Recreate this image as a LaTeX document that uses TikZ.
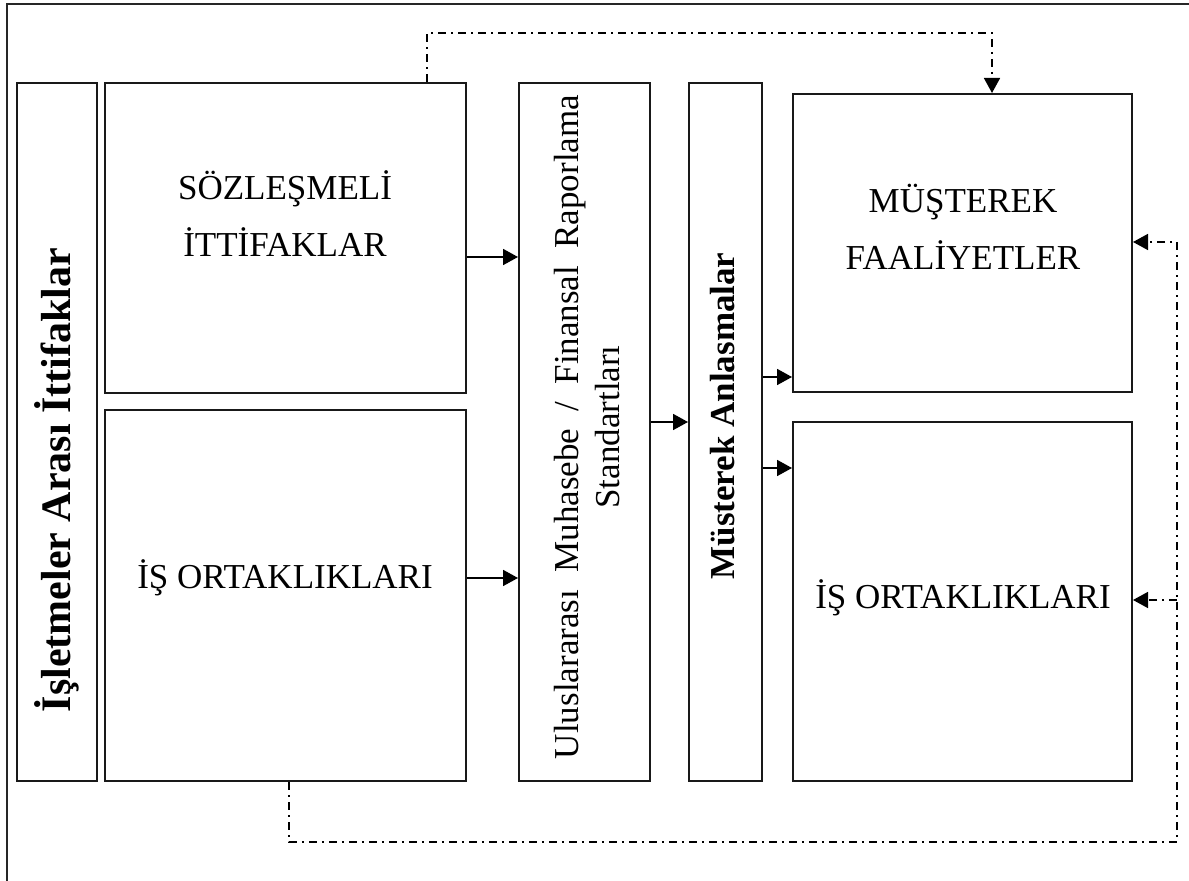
\documentclass[tikz,border=0pt]{standalone}
\usepackage{fontspec}
\setmainfont{Liberation Serif}
\usetikzlibrary{arrows.meta}
\begin{document}
\begin{tikzpicture}[x=0.5pt,y=-0.5pt,
  box/.style={draw=black!90,line width=1pt,inner sep=0pt,fill=none},
  txt/.style={font=\fontsize{17.5}{28.5}\selectfont,align=center,inner sep=0pt},
  vtxt/.style={font=\fontsize{17.5}{20.5}\selectfont,align=center,inner sep=0pt,rotate=90},
  arr/.style={line width=0.9pt,-{Triangle[length=7.5pt,width=8pt]}},
  dd/.style={line width=0.8pt,dash pattern=on 4pt off 2.5pt on 1pt off 2.5pt},
  ddarr/.style={dd,-{Triangle[length=7.5pt,width=8pt]}}]
\useasboundingbox (0,0) rectangle (1189,881);
\fill[white] (0,0) rectangle (1189,881);
% outer frame (right and bottom sides fall outside the page)
\draw[line width=1pt,black!85] (7,4) rectangle (1200,900);

% boxes
\node[box,minimum width=40pt,minimum height=349pt] (L) at (57,432) {};
\node[box,minimum width=180.5pt,minimum height=155pt] (S) at (285.5,238) {};
\node[box,minimum width=180.5pt,minimum height=185.5pt] (I) at (285.5,595.5) {};
\node[box,minimum width=65.5pt,minimum height=349pt] (U) at (584.5,432) {};
\node[box,minimum width=36.5pt,minimum height=349pt] (M) at (725.5,432) {};
\node[box,minimum width=169.5pt,minimum height=149pt] (F) at (962.5,243) {};
\node[box,minimum width=169.5pt,minimum height=179.5pt] (J) at (962.5,601.5) {};

% texts
\node[vtxt,font=\fontsize{21}{24}\selectfont\bfseries] (Lt) at (57,480) {İşletmeler Arası İttifaklar};
\node[txt] (St) at (285,214) {SÖZLEŞMELİ\\İTTİFAKLAR};
\node[txt] (It) at (285,578) {İŞ ORTAKLIKLARI};
\node[vtxt] (Ut) at (587,427) {\hbox to 332pt{Uluslararası\hfil Muhasebe\hfil /\hfil Finansal\hfil Raporlama}\\Standartları};
\node[vtxt,font=\fontsize{17.5}{20.5}\selectfont\bfseries] (Mt) at (723,416) {Müsterek Anlasmalar};
\node[txt] (Ft) at (963,227) {MÜŞTEREK\\FAALİYETLER};
\node[txt] (Jt) at (963,598) {İŞ ORTAKLIKLARI};

% arrow levels
\coordinate (ya) at (0,257);
\coordinate (yb) at (0,578);
\coordinate (yc) at (0,422);
\coordinate (yd) at (0,377);
\coordinate (ye) at (0,468);
\draw[arr] (S.east |- ya) -- (U.west |- ya);
\draw[arr] (I.east |- yb) -- (U.west |- yb);
\draw[arr] (U.east |- yc) -- (M.west |- yc);
\draw[arr] (M.east |- yd) -- (F.west |- yd);
\draw[arr] (M.east |- ye) -- (J.west |- ye);

% dash-dot feedback lines
\coordinate (xs) at (427,0);
\coordinate (xf) at (992,0);
\coordinate (t1) at (427,33);
\coordinate (t2) at (992,33);
\draw[ddarr] (S.north -| xs) -- (t1) -- (t2) -- (F.north -| xf);

\coordinate (xi) at (289,0);
\coordinate (b1) at (289,842);
\coordinate (b2) at (1177,842);
\coordinate (b3) at (1177,242);
\coordinate (b4) at (1177,600);
\draw[ddarr] (I.south -| xi) -- (b1) -- (b2) -- (b3) -- (F.east |- b3);
\draw[ddarr] (b4) -- (J.east |- b4);
\end{tikzpicture}
\end{document}
